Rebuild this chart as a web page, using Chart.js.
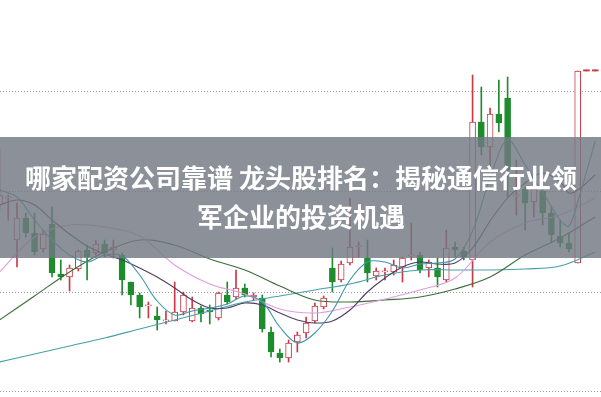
<!DOCTYPE html>
<html>
<head>
<meta charset="utf-8">
<script src="https://cdn.jsdelivr.net/npm/chart.js@4.4.0/dist/chart.umd.min.js"></script>
<style>
  html, body { margin: 0; padding: 0; background: #fff; }
  #wrap { width: 601px; height: 397px; position: relative; }
</style>
</head>
<body>
<div id="wrap"><canvas id="kline" width="601" height="397"></canvas></div>
<script>
// K线数据
const opens  = [11.87,11.94,11.52,11.74,11.59,11.43,11.68,11.18,11.15,11.23,11.42,11.39,11.48,11.42,11.37,11.10,10.97,10.86,10.76,10.71,
                10.71,10.80,10.71,10.84,10.82,10.74,10.97,10.95,11.04,10.95,10.94,10.60,10.39,10.34,10.50,10.59,10.71,10.85,11.24,11.12,
                11.29,11.45,11.34,11.16,11.20,11.20,11.25,11.36,11.37,11.24,11.24,11.12,11.45,11.41,11.32,12.70,12.45,12.78,12.94,11.96,
                12.03,11.90,12.01,11.79,11.56,11.49,11.29,13.21,13.21];
const closes = [11.97,11.95,11.74,11.59,11.40,11.58,11.19,11.15,11.24,11.41,11.35,11.48,11.39,11.45,11.12,10.97,10.85,10.87,10.72,10.72,
                10.80,10.97,10.84,10.78,10.80,10.99,10.90,11.04,10.97,10.97,10.63,10.40,10.34,10.49,10.57,10.69,10.86,10.94,11.10,11.28,
                11.45,11.46,11.19,11.21,11.21,11.27,11.34,11.37,11.22,11.30,11.15,11.44,11.42,11.35,12.70,12.45,12.78,12.69,12.22,11.97,
                11.89,12.03,11.79,11.57,11.49,11.43,13.21,13.21,13.21];
const highs  = [12.44,11.97,11.89,11.79,11.79,11.62,11.85,11.32,11.27,11.42,11.47,11.52,11.52,11.52,11.39,11.10,10.99,10.90,10.85,10.81,
                11.10,11.00,10.95,10.86,10.87,11.00,11.10,11.22,11.08,10.99,10.97,10.65,10.43,10.52,10.60,10.75,10.89,10.96,11.44,11.31,
                11.94,11.50,11.52,11.24,11.24,11.32,11.35,11.69,11.40,11.32,11.34,11.62,11.50,11.45,13.17,13.05,12.84,13.12,13.15,12.32,
                12.05,12.19,12.05,11.85,11.72,11.59,13.21,13.21,13.21];
const lows   = [11.82,11.72,11.25,11.55,11.37,11.40,11.15,11.12,11.01,11.21,11.12,11.37,11.35,11.34,10.97,10.87,10.74,10.74,10.62,10.68,
                10.71,10.77,10.70,10.70,10.68,10.72,10.88,10.93,10.95,10.92,10.60,10.35,10.30,10.30,10.40,10.54,10.69,10.83,11.00,11.10,
                11.27,11.35,11.10,11.12,11.12,11.17,11.10,11.32,11.19,11.15,11.05,11.10,11.35,11.32,11.05,12.37,12.25,12.60,11.95,11.77,
                11.62,11.75,11.67,11.49,11.45,11.40,11.29,13.21,13.21];

// 均线 (读取的采样点)
const fastIdx = [0,2,4,6,8,10,12,14,16,18,20,22,24,26,28,30,32,34,36,38,40,42,44,46,48,50,52,54,56,58,60,62,64,65,66,68];
const ma5  = [12.02,11.95,11.72,11.52,11.37,11.30,11.37,11.36,11.17,10.91,10.77,10.81,10.84,10.88,10.96,10.90,10.65,10.49,10.59,10.81,
              11.12,11.30,11.30,11.24,11.28,11.29,11.33,11.61,12.14,12.52,12.27,12.00,11.72,11.66,11.90,12.51];
const ma10 = [11.87,11.92,11.87,11.72,11.58,11.46,11.38,11.32,11.24,11.15,11.04,10.92,10.84,10.84,10.89,10.87,10.79,10.72,10.69,10.71,
              10.82,11.00,11.14,11.25,11.30,11.28,11.29,11.44,11.71,11.94,12.09,12.19,12.10,11.99,12.02,12.17];
const slowIdx = [0,4,8,12,16,20,24,28,32,36,40,44,48,52,56,60,64,68];
const ma20 = [11.20,11.55,11.67,11.65,11.56,11.27,11.08,10.98,10.83,10.79,10.85,10.93,11.02,11.14,11.50,11.69,11.77,11.94];
const ma30 = [10.72,10.96,11.20,11.40,11.52,11.47,11.33,11.22,11.06,10.92,10.90,10.92,10.95,11.03,11.15,11.37,11.54,11.75];
const ma60 = [10.30,10.38,10.46,10.54,10.63,10.72,10.81,10.90,10.96,11.02,11.08,11.17,11.22,11.22,11.22,11.23,11.26,11.40];

const priceTicks = [10, 11, 12, 13];
const titleLines = ['哪家配资公司靠谱 龙头股排名：揭秘通信行业领', '军企业的投资机遇'];

const RED = '#c83a45';
const GREEN = '#1e8c2c';

const isUp = opens.map((o, i) => closes[i] >= o);
// 一字板 (开=收=高=低) 画成一条横线
const isFlat = opens.map((o, i) => o === closes[i] && highs[i] === lows[i]);
const bodies = opens.map((o, i) => ({ x: i, y: [o, closes[i]] }));
const wicks = lows.map((l, i) => ({ x: i, y: [l, highs[i]] }));
const pts = (idx, vals) => idx.map((x, k) => ({ x: x, y: vals[k] }));

const maLine = (label, idx, vals, color) => ({
    type: 'line',
    label: label,
    data: pts(idx, vals),
    borderColor: color,
    borderWidth: 1.1,
    pointRadius: 0,
    tension: 0.35,
    order: 0
});

// 半透明标题条
const bannerPlugin = {
    id: 'banner',
    afterDraw(chart) {
        const ctx = chart.ctx;
        ctx.save();
        ctx.fillStyle = 'rgba(115,121,130,0.82)';
        ctx.fillRect(0, 137, chart.width, 121);
        ctx.fillStyle = '#ffffff';
        ctx.font = 'bold 26px "Noto Sans CJK SC", sans-serif';
        ctx.textAlign = 'center';
        ctx.textBaseline = 'middle';
        ctx.fillText(titleLines[0], 301, 178);
        ctx.fillText(titleLines[1], 301, 217);
        ctx.restore();
    }
};

new Chart(document.getElementById('kline'), {
    type: 'bar',
    data: {
        datasets: [
            maLine('MA5', fastIdx, ma5, '#3c96ad'),
            maLine('MA10', fastIdx, ma10, '#4e3d60'),
            maLine('MA20', slowIdx, ma20, '#e29ce0'),
            maLine('MA30', slowIdx, ma30, '#3b6d3b'),
            maLine('MA60', slowIdx, ma60, '#46a0a8'),
            {
                label: 'body',
                data: bodies,
                backgroundColor: isUp.map((u, i) => isFlat[i] ? RED : (u ? '#ffffff' : GREEN)),
                borderColor: isUp.map(u => u ? RED : GREEN),
                borderWidth: isFlat.map(f => f ? 0 : 1),
                borderSkipped: false,
                barThickness: 6,
                minBarLength: 1.2,
                grouped: false,
                order: 1
            },
            {
                label: 'wick',
                data: wicks,
                backgroundColor: isUp.map(u => u ? RED : GREEN),
                borderWidth: 0,
                barThickness: 1,
                minBarLength: 1,
                grouped: false,
                order: 2
            }
        ]
    },
    options: {
        responsive: false,
        animation: false,
        layout: { padding: 0 },
        plugins: { legend: { display: false }, tooltip: { enabled: false } },
        scales: {
            x: {
                type: 'linear',
                min: 0.06,
                max: 68.66,
                offset: false,
                display: false
            },
            y: {
                min: 9.95,
                max: 13.92,
                afterBuildTicks: s => { s.ticks = priceTicks.map(v => ({ value: v })); },
                ticks: { display: false },
                grid: { color: '#9a9a9a', drawTicks: false, lineWidth: 1 },
                border: { display: false, dash: [1, 2] },
                afterFit: s => { s.width = 0; }
            }
        }
    },
    plugins: [bannerPlugin]
});
</script>
</body>
</html>
